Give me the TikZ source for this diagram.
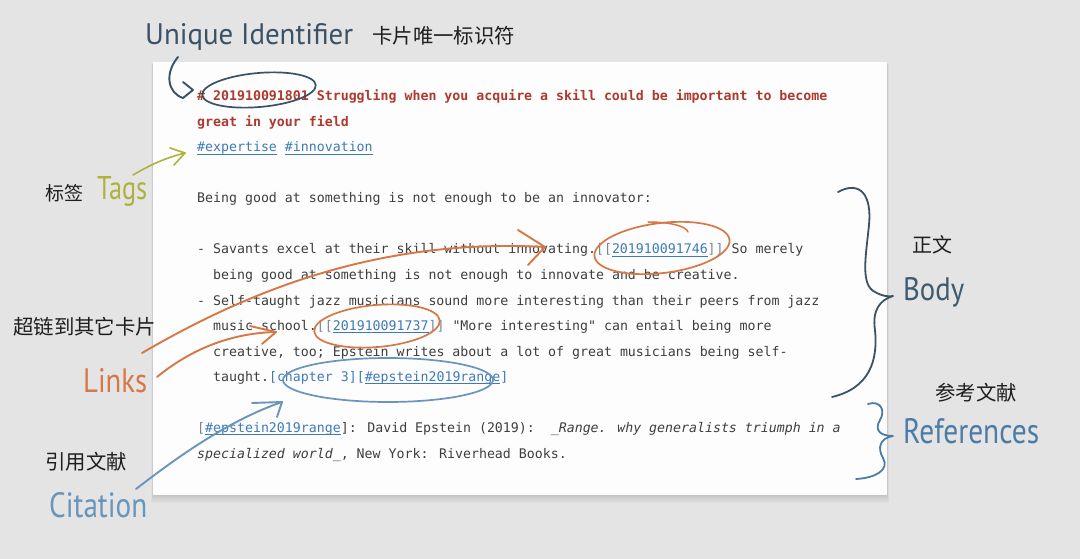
\documentclass[tikz,border=0pt]{standalone}
\usepackage{fontspec}
\newfontfamily\monof{DejaVu Sans Mono}
\newfontfamily\hf{PT Sans}
\newfontfamily\cjk{Noto Sans CJK SC}
\definecolor{bg}{RGB}{228,228,228}
\definecolor{card}{RGB}{253,253,253}
\definecolor{bodyc}{RGB}{62,62,62}
\definecolor{titlec}{RGB}{172,58,46}
\definecolor{lnkc}{RGB}{62,122,182}
\definecolor{brkc}{RGB}{115,135,155}
\definecolor{cjkc}{RGB}{30,30,30}
\definecolor{uidc}{RGB}{58,82,102}
\definecolor{tagc}{RGB}{172,178,62}
\definecolor{bodylc}{RGB}{62,90,110}
\definecolor{linkc}{RGB}{214,120,70}
\definecolor{refc}{RGB}{76,124,165}
\definecolor{citc}{RGB}{105,148,188}
\newcommand\lnk[1]{\setbox0\hbox{#1}\rlap{\color{lnkc}\rule[-2.4pt]{\wd0}{0.6pt}}\box0\relax}
\begin{document}
\begin{tikzpicture}[x=1pt,y=-1pt,
  mono/.style={inner sep=0pt, anchor=base west, font=\monof\fontsize{13.25}{15}\selectfont, text=bodyc},
  hand/.style={inner sep=0pt, anchor=base west},
  cjkl/.style={inner sep=0pt, anchor=west, font=\cjk\fontsize{20.4}{22}\selectfont, text=cjkc},
  ann/.style={line width=1.9pt, line cap=round, line join=round},
]
\useasboundingbox (0,0) rectangle (1080,559);
\fill[bg] (0,0) rectangle (1080,559);
% card shadow
\foreach \s in {1,...,7}{
  \fill[black, opacity=0.018] (153-\s*0.25,62+\s*0.5) rectangle (887+\s*0.25,495+\s*1.1);
}
\fill[card] (153,62) rectangle (887,495);

% card text
\node[mono, text=titlec, font=\monof\bfseries\fontsize{13.25}{15}\selectfont] (t1) at (197,101)
  {\# 201910091801 Struggling when you acquire a skill could be important to become};
\node[mono, text=titlec, font=\monof\bfseries\fontsize{13.25}{15}\selectfont] (t2) at (197,126.5)
  {great in your field};
\node[mono, text=lnkc] (tags) at (197,152) {\lnk{\#expertise}\ \lnk{\#innovation}};
\node[mono] (b1) at (197,203) {Being good at something is not enough to be an innovator:};
\node[mono] (b2) at (197,254) {- Savants excel at their skill without innovating.{\color{brkc}[[}{\color{lnkc}\lnk{201910091746}}{\color{brkc}]]} So merely};
\node[mono] (b3) at (213,279.5) {being good at something is not enough to innovate and be creative.};
\node[mono] (b4) at (197,305) {- Self-taught jazz musicians sound more interesting than their peers from jazz};
\node[mono] (b5) at (213,330.5) {music school.{\color{brkc}[[}{\color{lnkc}\lnk{201910091737}}{\color{brkc}]]} "More interesting" can entail being more};
\node[mono] (b6) at (213,356) {creative, too; Epstein writes about a lot of great musicians being self-};
\node[mono] (b7) at (213,381.5) {taught.{\color{lnkc}[chapter 3][\lnk{\#epstein2019range}]}};
\node[mono] (r1) at (197,432.5) {{\color{brkc}[}{\color{lnkc}\lnk{\#epstein2019range}}]: David Epstein (2019):\ \ \itshape \_Range. why generalists triumph in a};
\node[mono] (r2) at (197,458) {{\itshape specialized world\_}, New York: Riverhead Books.};

% labels
\node[hand, text=uidc] (uid) at (145,45) {\resizebox{208pt}{21pt}{\hf Unique Identifier}};
\node[cjkl] (uidcn) at (372,36) {卡片唯一标识符};
\node[hand, text=tagc] (tagl) at (97,200) {\resizebox{50pt}{23pt}{\hf Tags}};
\node[cjkl, font=\cjk\fontsize{19}{21}\selectfont] (tagcn) at (45,193) {标签};
\node[cjkl, font=\cjk\fontsize{20}{22}\selectfont] (bodycn) at (912,245) {正文};
\node[hand, text=bodylc] (bodyl) at (903,300) {\resizebox{61pt}{23pt}{\hf Body}};
\node[cjkl] (linkcn) at (13,327) {超链到其它卡片};
\node[hand, text=linkc] (linkl) at (83,392) {\resizebox{64pt}{24pt}{\hf Links}};
\node[cjkl] (refcn) at (935,393) {参考文献};
\node[hand, text=refc] (refl) at (903,443) {\resizebox{136pt}{25pt}{\hf References}};
\node[cjkl] (citcn) at (45,462) {引用文献};
\node[hand, text=citc] (citl) at (49,517) {\resizebox{98pt}{25pt}{\hf Citation}};

% annotation coordinates
\coordinate (uidtip) at (193,90);
\coordinate (tagtip) at (185,153);
\coordinate (l1tip) at (545,247);
\coordinate (l2tip) at (276,332);
\coordinate (cittip) at (282,402);

% unique id arrow and ellipse
\draw[ann, uidc] (178,57) .. controls (164,74) and (168,93) .. (183,98) -- (uidtip) -- (183,82);
\draw[ann, uidc, line width=1.7pt, rotate around={5:(259,90)}] (259,90) ellipse [x radius=57, y radius=17];

% tags arrow
\draw[ann, tagc, line width=1.6pt] (133,175) .. controls (150,165) and (165,158) .. (tagtip);
\draw[ann, tagc, line width=1.6pt] (170,148) -- (tagtip) -- (174,165);

% links arrows
\draw[ann, linkc] (142,353) .. controls (250,290) and (380,238) .. (l1tip);
\draw[ann, linkc] (518,230) -- (l1tip) -- (528,265);
\draw[ann, linkc] (157,377) .. controls (190,350) and (230,333) .. (l2tip);
\draw[ann, linkc] (250,326) -- (l2tip) -- (262,344);
\draw[ann, linkc, line width=1.7pt, rotate around={7:(662,248)}] (662,248) ellipse [x radius=68, y radius=25];
\draw[ann, linkc, line width=1.5pt] (648,222) .. controls (670,222) and (686,226) .. (688,232);
\draw[ann, linkc, line width=1.7pt, rotate around={5:(377,326)}] (377,326) ellipse [x radius=63, y radius=21];

% citation
\draw[ann, citc, line width=1.7pt] (388,380) ellipse [x radius=105, y radius=22];
\draw[ann, citc] (136,489) .. controls (180,455) and (230,420) .. (cittip);
\draw[ann, citc] (252,403) -- (cittip) -- (277,417);

% braces
\draw[ann, uidc, line width=1.8pt] (838,192) .. controls (860,180) and (872,195) .. (869,225)
  .. controls (866,255) and (860,285) .. (875,292)
  .. controls (882,296) and (888,297) .. (893,296)
  .. controls (880,300) and (872,310) .. (875,330)
  .. controls (878,360) and (870,388) .. (832,397);
\draw[ann, refc, line width=1.8pt] (868,404) .. controls (880,400) and (886,410) .. (880,420)
  .. controls (874,430) and (880,436) .. (893,436)
  .. controls (880,438) and (877,448) .. (883,458)
  .. controls (890,470) and (875,478) .. (856,479);
\end{tikzpicture}
\end{document}
